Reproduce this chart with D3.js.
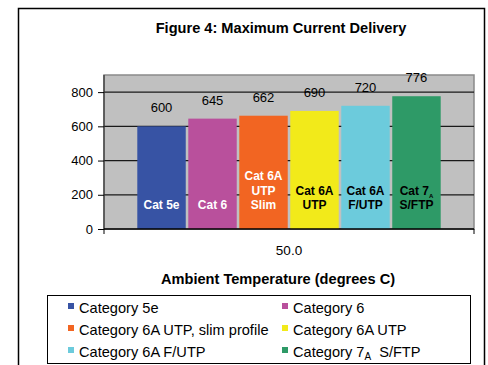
<!DOCTYPE html>
<html>
<head>
<meta charset="utf-8">
<script src="https://cdn.jsdelivr.net/npm/d3@7"></script>
<style>
  body { margin: 0; background: #fff; }
  text { font-family: "Liberation Sans", Arial, sans-serif; }
</style>
</head>
<body>
<div id="chart"></div>
<script>
const categories = ['50.0']
const seriesNames = ['Category 5e', 'Category 6', 'Category 6A UTP, slim profile', 'Category 6A UTP', 'Category 6A F/UTP', 'Category 7A S/FTP']
const values = [600, 645, 662, 690, 720, 776]
const barLabels = [['Cat 5e'], ['Cat 6'], ['Cat 6A', 'UTP', 'Slim'], ['Cat 6A', 'UTP'], ['Cat 6A', 'F/UTP'], ['Cat 7A', 'S/FTP']]
const yTicks = [0, 200, 400, 600, 800]
const fills = ['#3753a4', '#b9509c', '#f26522', '#f2ea1a', '#6ccbdc', '#2e9a67']
const labelColors = ['#fff', '#fff', '#fff', '#000', '#000', '#000']

const width = 488
const height = 365
const plot = { left: 104, right: 474, top: 75, bottom: 229 }

const svg = d3.select('#chart')
  .append('svg')
  .attr('width', width)
  .attr('height', height)

// outer frame
svg.append('rect')
  .attr('x', 18.5).attr('y', 8.5)
  .attr('width', 466).attr('height', 370)
  .attr('fill', '#fff')
  .attr('stroke', '#000')
  .attr('stroke-width', 1.5)

svg.append('text')
  .attr('x', 281).attr('y', 33)
  .attr('text-anchor', 'middle')
  .attr('font-size', 14.6)
  .attr('font-weight', 'bold')
  .text('Figure 4: Maximum Current Delivery')

const y = d3.scaleLinear().domain([0, 900]).range([plot.bottom, plot.top])
const x0 = d3.scaleBand().domain(categories).range([plot.left, plot.right]).paddingInner(0.18).paddingOuter(0.09)
const x1 = d3.scaleBand().domain(seriesNames).range([0, x0.bandwidth()]).paddingInner(0.05)

svg.append('rect')
  .attr('x', plot.left).attr('y', plot.top)
  .attr('width', plot.right - plot.left).attr('height', plot.bottom - plot.top)
  .attr('fill', '#c0c0c0')
  .attr('stroke', '#8a8a8a')
  .attr('stroke-width', 1.5)

// gridlines
svg.selectAll('.grid')
  .data(yTicks.slice(1))
  .enter()
  .append('line')
  .attr('x1', plot.left).attr('x2', plot.right)
  .attr('y1', (d) => y(d)).attr('y2', (d) => y(d))
  .attr('stroke', '#1a1a1a')
  .attr('stroke-width', 1.2)

// y axis
const yAxis = svg.append('g')
  .attr('transform', `translate(${plot.left},0)`)
  .call(d3.axisLeft(y).tickValues(yTicks).tickSize(6).tickPadding(5))
yAxis.select('.domain').attr('d', `M0,${plot.bottom}V${plot.top}`).attr('stroke', '#333').attr('stroke-width', 1.2)
yAxis.selectAll('.tick line').attr('stroke', '#000')
yAxis.selectAll('.tick text').attr('font-size', 13).attr('fill', '#000')
  .style('font-family', '"Liberation Sans", Arial, sans-serif')

const g = svg.append('g')
categories.forEach((cat) => {
  const bars = g.selectAll('.bar')
    .data(values.map((v, i) => ({ v, i, name: seriesNames[i] })))
    .enter()
    .append('g')
    .attr('transform', (d) => `translate(${x0(cat) + x1(d.name)},0)`)

  bars.append('rect')
    .attr('y', (d) => y(d.v))
    .attr('width', x1.bandwidth())
    .attr('height', (d) => y(0) - y(d.v))
    .attr('fill', (d) => fills[d.i])

  bars.append('text')
    .attr('x', x1.bandwidth() / 2)
    .attr('y', (d) => y(d.v) - 14)
    .attr('text-anchor', 'middle')
    .attr('font-size', 13)
    .text((d) => d.v)

  bars.each(function (d) {
    const lines = barLabels[d.i]
    const t = d3.select(this).append('text')
      .attr('text-anchor', 'middle')
      .attr('font-size', 12)
      .attr('font-weight', 'bold')
      .attr('fill', labelColors[d.i])
    lines.forEach((line, k) => {
      const ly = y(0) - 20 - (lines.length - 1 - k) * 14.5
      if (line === 'Cat 7A') {
        const tl = t.append('tspan').attr('x', x1.bandwidth() / 2).attr('y', ly)
        tl.append('tspan').text('Cat 7')
        tl.append('tspan').attr('font-size', 6).attr('dy', 3).text('A')
      } else {
        t.append('tspan').attr('x', x1.bandwidth() / 2).attr('y', ly).text(line)
      }
    })
  })
})

// x axis
svg.append('line')
  .attr('x1', plot.left).attr('x2', plot.right)
  .attr('y1', plot.bottom).attr('y2', plot.bottom)
  .attr('stroke', '#000').attr('stroke-width', 1.5)
;[plot.left, plot.right].forEach((xx) => {
  svg.append('line')
    .attr('x1', xx).attr('x2', xx)
    .attr('y1', plot.bottom).attr('y2', plot.bottom + 5)
    .attr('stroke', '#000')
})

svg.append('text')
  .attr('x', x0(categories[0]) + x0.bandwidth() / 2)
  .attr('y', 255)
  .attr('text-anchor', 'middle')
  .attr('font-size', 13.5)
  .text(categories[0])

svg.append('text')
  .attr('x', 278).attr('y', 284)
  .attr('text-anchor', 'middle')
  .attr('font-size', 14.6)
  .attr('font-weight', 'bold')
  .text('Ambient Temperature (degrees C)')

// legend
svg.append('rect')
  .attr('x', 47.5).attr('y', 295.5)
  .attr('width', 423).attr('height', 68)
  .attr('fill', '#fff')
  .attr('stroke', '#000')
  .attr('stroke-width', 1)

const legend = svg.selectAll('.legend')
  .data(seriesNames)
  .enter()
  .append('g')
  .attr('transform', (d, i) => `translate(${i % 2 === 0 ? 68 : 282},${308 + Math.floor(i / 2) * 22})`)

legend.append('rect')
  .attr('x', 0).attr('y', -5)
  .attr('width', 6).attr('height', 6)
  .attr('fill', (d, i) => fills[i])

legend.each(function (d) {
  const t = d3.select(this).append('text')
    .attr('x', 11).attr('y', 5)
    .attr('font-size', 14.6)
  if (d === 'Category 7A S/FTP') {
    t.append('tspan').text('Category 7')
    t.append('tspan').attr('font-size', 10).attr('dy', 3).text('A')
    t.append('tspan').attr('dy', -3).text('\u00a0 S/FTP')
  } else {
    t.text(d)
  }
})
</script>
</body>
</html>
